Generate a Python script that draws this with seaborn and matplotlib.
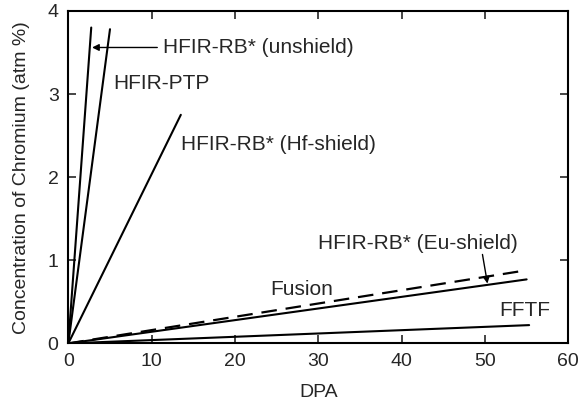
import pandas as pd
import seaborn as sns
import matplotlib.pyplot as plt

# Cr concentration vs DPA, each case is a straight line from the origin
series = ["HFIR-RB* (unshield)", "HFIR-PTP", "HFIR-RB* (Hf-shield)",
          "HFIR-RB* (Eu-shield)", "Fusion", "FFTF"]
dpa_start = [0, 0, 0, 0, 0, 0]
dpa_end = [2.75, 5.0, 13.5, 55.0, 55.0, 55.3]
cr_start = [0, 0, 0, 0, 0, 0]
cr_end = [3.8, 3.78, 2.75, 0.88, 0.77, 0.22]
dashed = [False, False, False, True, False, False]

rows = []
for name, x0, x1, y0, y1 in zip(series, dpa_start, dpa_end, cr_start, cr_end):
    rows.append({"case": name, "DPA": x0, "Cr": y0})
    rows.append({"case": name, "DPA": x1, "Cr": y1})
df = pd.DataFrame(rows)

sns.set_style("ticks")
plt.rcParams["font.family"] = ["Liberation Sans", "DejaVu Sans"]

fig = plt.figure(figsize=(5.79, 4.04), dpi=100)
ax = fig.add_axes([0.118, 0.150, 0.8635, 0.823])

for name, d in zip(series, dashed):
    sub = df[df["case"] == name]
    sns.lineplot(data=sub, x="DPA", y="Cr", ax=ax, color="black",
                 linewidth=1.6 if d else 1.5,
                 linestyle=(0, (7, 4)) if d else "-", legend=False)

fs = 15
ax.annotate("HFIR-RB* (unshield)", xy=(2.85, 3.56), xytext=(11.4, 3.56),
            fontsize=fs, va="center",
            arrowprops=dict(arrowstyle="-|>", color="black", lw=1.0,
                            shrinkA=2, shrinkB=0, mutation_scale=10))
ax.text(5.4, 3.13, "HFIR-PTP", fontsize=fs, va="center")
ax.text(13.5, 2.39, "HFIR-RB* (Hf-shield)", fontsize=fs, va="center")
ax.text(30.0, 1.2, "HFIR-RB* (Eu-shield)", fontsize=fs, va="center")
ax.annotate("", xy=(50.3, 0.72), xytext=(49.7, 1.07),
            arrowprops=dict(arrowstyle="-|>", color="black", lw=1.0,
                            shrinkA=0, shrinkB=0, mutation_scale=10))
ax.text(24.2, 0.65, "Fusion", fontsize=fs, va="center")
ax.text(51.7, 0.39, "FFTF", fontsize=fs, va="center")

ax.set_xlim(0, 60)
ax.set_ylim(0, 4)
ax.set_xticks([0, 10, 20, 30, 40, 50, 60])
ax.set_yticks([0, 1, 2, 3, 4])
ax.tick_params(direction="in", top=True, right=True, length=6, width=1.2,
               labelsize=14, pad=7)
for s in ax.spines.values():
    s.set_linewidth(1.5)
    s.set_color("black")
ax.set_xlabel("DPA", fontsize=14, labelpad=10)
ax.set_ylabel("Concentration of Chromium (atm %)", fontsize=14, labelpad=13)

fig.savefig("out.png", dpi=100)
